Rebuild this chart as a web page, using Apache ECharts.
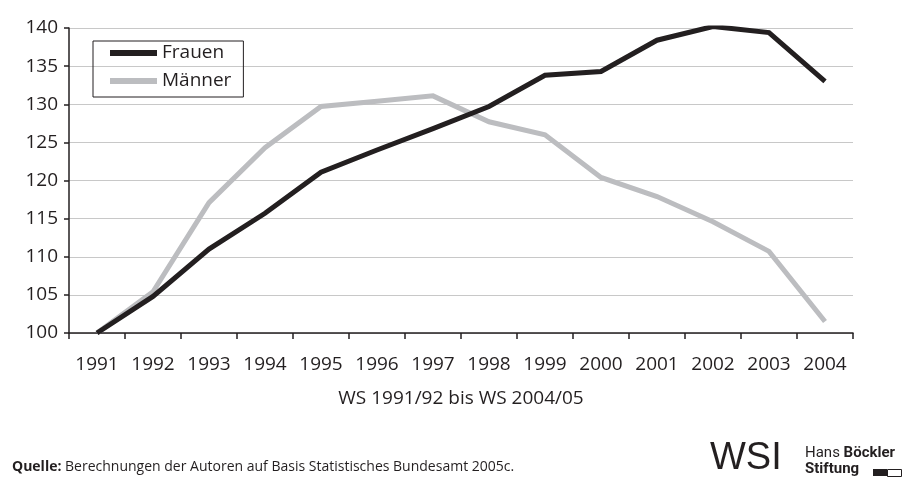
<!DOCTYPE html>
<html>
<head>
<meta charset="utf-8">
<script src="https://cdn.jsdelivr.net/npm/echarts@6/dist/echarts.min.js"></script>
<style>
  html, body { margin: 0; padding: 0; background: #fff; }
  #chart { width: 903px; height: 483px; }
</style>
</head>
<body>
<div id="chart"></div>
<script>
var years = ['1991', '1992', '1993', '1994', '1995', '1996', '1997', '1998', '1999', '2000', '2001', '2002', '2003', '2004'];
var frauen = [100, 104.8, 111.0, 115.7, 121.1, 124.0, 126.8, 129.7, 133.8, 134.3, 138.4, 140.2, 139.4, 133.0];
var maenner = [100, 105.4, 117.1, 124.3, 129.7, 130.4, 131.1, 127.7, 126.0, 120.4, 117.9, 114.6, 110.7, 101.5];
var yTicks = [100, 105, 110, 115, 120, 125, 130, 135, 140];

var dark = '#231f20';
var grey = '#bcbdc0';
var font = 'Open Sans';

var myChart = echarts.init(document.getElementById('chart'));

option = {
    backgroundColor: '#fff',
    animation: false,
    textStyle: { fontFamily: font, color: dark },
    grid: { left: 69, right: 50, top: 28, bottom: 150 },
    legend: {
        orient: 'vertical',
        left: 93,
        top: 41,
        borderColor: dark,
        borderWidth: 1,
        padding: [2, 12, 6, 17],
        itemGap: 8,
        itemWidth: 47,
        itemHeight: 6,
        textStyle: { fontSize: 19, lineHeight: 20, color: dark, fontFamily: font },
        data: [
            { name: 'Frauen', icon: 'rect' },
            { name: 'Männer', icon: 'rect' }
        ]
    },
    xAxis: {
        type: 'category',
        data: years,
        boundaryGap: true,
        name: 'WS 1991/92 bis WS 2004/05',
        nameLocation: 'middle',
        nameGap: 56,
        nameTextStyle: { fontSize: 19, color: dark, fontFamily: font, verticalAlign: 'top' },
        axisLine: { lineStyle: { color: dark, width: 1.5 } },
        axisTick: { show: true, interval: 0, length: 6, lineStyle: { color: dark, width: 1.5 } },
        axisLabel: { interval: 0, fontSize: 19, color: dark, margin: 22, fontFamily: font }
    },
    yAxis: {
        type: 'value',
        min: yTicks[0],
        max: yTicks[yTicks.length - 1],
        interval: 5,
        axisLine: { show: true, lineStyle: { color: dark, width: 1.5 } },
        axisTick: { show: true, length: 5, lineStyle: { color: dark, width: 1.5 } },
        axisLabel: { fontSize: 19, color: dark, margin: 11, fontFamily: font },
        splitLine: { lineStyle: { color: '#c8c8c8', width: 1.2 } }
    },
    series: [
        {
            name: 'Männer',
            type: 'line',
            data: maenner,
            symbol: 'none',
            z: 3,
            itemStyle: { color: grey },
            lineStyle: { color: grey, width: 5, join: 'miter' }
        },
        {
            name: 'Frauen',
            type: 'line',
            data: frauen,
            symbol: 'none',
            z: 4,
            itemStyle: { color: dark },
            lineStyle: { color: dark, width: 5, join: 'miter' }
        }
    ],
    graphic: [
        {
            type: 'text',
            left: 12,
            top: 460,
            style: {
                text: '{b|Quelle:} Berechnungen der Autoren auf Basis Statistisches Bundesamt 2005c.',
                fontSize: 14,
                fontFamily: font,
                fill: dark,
                rich: { b: { fontWeight: 'bold', fontSize: 14, fontFamily: font, fill: dark } }
            }
        },
        {
            type: 'text',
            left: 710,
            top: 440,
            style: { text: 'WSI', fontSize: 38, fontFamily: 'Liberation Sans', fill: dark }
        },
        {
            type: 'text',
            left: 805,
            top: 446,
            style: {
                text: 'Hans {b|Böckler}',
                fontSize: 15,
                fontFamily: 'Roboto',
                fill: dark,
                rich: { b: { fontWeight: 'bold', fontSize: 15, fontFamily: 'Roboto', fill: dark } }
            }
        },
        {
            type: 'text',
            left: 805,
            top: 462,
            style: { text: 'Stiftung', fontSize: 15, fontFamily: 'Roboto', fontWeight: 'bold', fill: dark }
        },
        {
            type: 'rect',
            left: 873,
            top: 469,
            shape: { width: 14, height: 7 },
            style: { fill: dark }
        },
        {
            type: 'rect',
            left: 887,
            top: 469,
            shape: { width: 14, height: 7 },
            style: { fill: '#fff', stroke: dark, lineWidth: 1 }
        }
    ]
};

myChart.setOption(option);
</script>
</body>
</html>
